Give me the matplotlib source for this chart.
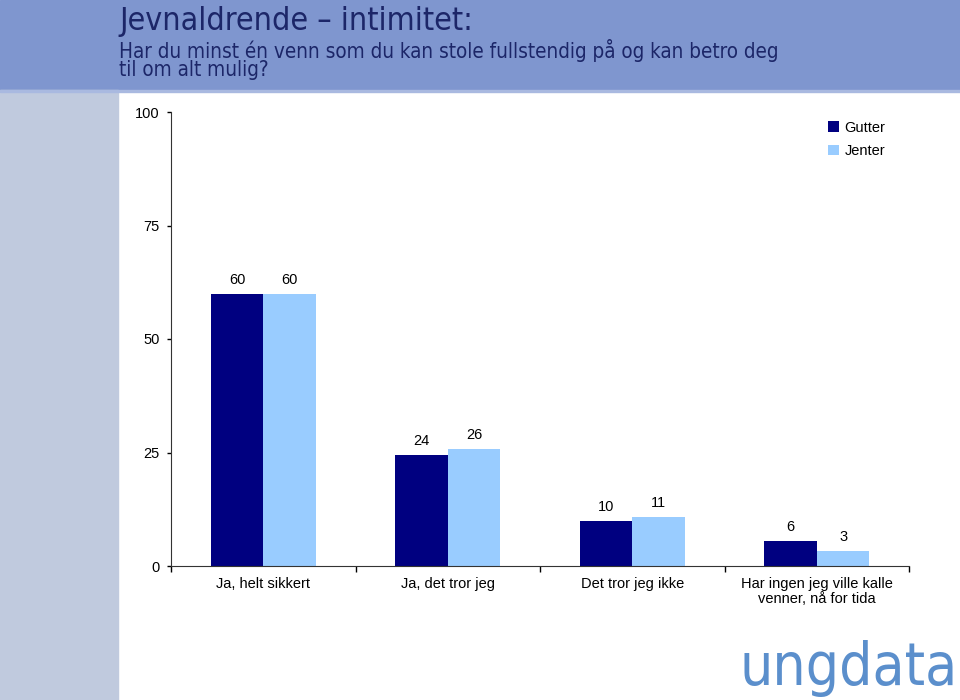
import matplotlib.pyplot as plt
import numpy as np
from matplotlib.patches import Rectangle

# Data (percent)
categories = ['Ja, helt sikkert', 'Ja, det tror jeg', 'Det tror jeg ikke',
              'Har ingen jeg ville kalle\nvenner, nå for tida']
gutter = [60.0, 24.4, 9.9, 5.5]
jenter = [60.0, 25.8, 10.8, 3.3]
series_names = ['Gutter', 'Jenter']
yticks = [0, 25, 50, 75, 100]

title = 'Jevnaldrende – intimitet:'
subtitle = 'Har du minst én venn som du kan stole fullstendig på og kan betro deg\ntil om alt mulig?'

GUTTER_COL = '#000080'
JENTER_COL = '#99ccff'

plt.rcParams['font.family'] = ['Liberation Sans', 'DejaVu Sans']

fig = plt.figure(figsize=(9.6, 7), dpi=100)

# Header band and side bar
fig.patches.append(Rectangle((0, 1 - 90 / 700), 1, 90 / 700,
                             transform=fig.transFigure, color='#7f96cf', zorder=0))
fig.patches.append(Rectangle((0, 0), 118 / 960, 1 - 90 / 700,
                             transform=fig.transFigure, color='#c0cade', zorder=0))
fig.patches.append(Rectangle((0, 1 - 92 / 700), 1, 2 / 700,
                             transform=fig.transFigure, color='#a9b9e0', zorder=0))

fig.text(119 / 960, 1 - 30 / 700, title, fontsize=23, color='#1c2668',
         family='DejaVu Sans', fontstretch='condensed', va='baseline')
fig.text(119 / 960, 1 - 39 / 700, subtitle, fontsize=14.9, color='#1c2668',
         family='DejaVu Sans', fontstretch='condensed', va='top', linespacing=0.88)

ax = fig.add_axes([171 / 960, 134 / 700, 738 / 960, 454 / 700])
x = np.arange(len(categories))
w = 0.285
b1 = ax.bar(x - w / 2, gutter, w, color=GUTTER_COL, label=series_names[0])
b2 = ax.bar(x + w / 2, jenter, w, color=JENTER_COL, label=series_names[1])

for bars in (b1, b2):
    for r in bars:
        ax.annotate('%.0f' % r.get_height(), (r.get_x() + r.get_width() / 2, r.get_height()),
                    xytext=(0, 5), textcoords='offset points', ha='center', va='bottom',
                    fontsize=10.5)

ax.set_xlim(-0.5, len(categories) - 0.5)
ax.set_ylim(0, 100)
ax.set_yticks(yticks)
ax.tick_params(axis='y', direction='out', length=3, width=1, labelsize=10.5, pad=5)
ax.set_xticks(x)
ax.set_xticklabels(categories, fontsize=10.5, linespacing=1.1)
ax.tick_params(axis='x', which='major', length=0, pad=8)
ax.set_xticks(np.arange(len(categories) + 1) - 0.5, minor=True)
ax.tick_params(axis='x', which='minor', direction='out', length=4, width=1)
for s in ['top', 'right']:
    ax.spines[s].set_visible(False)
for s in ['left', 'bottom']:
    ax.spines[s].set_color('#333333')

ax.legend(loc='upper left', bbox_to_anchor=(0.873, 1.01), frameon=False, fontsize=10.5,
          handlelength=0.7, handleheight=0.7, handletextpad=0.4, labelspacing=0.65)

fig.text(958 / 960, 3 / 700, 'ungdata', fontsize=42, color='#5b8fcc', ha='right',
         va='bottom', family='DejaVu Sans', fontstretch='condensed', fontweight='light')

fig.savefig('out.png', dpi=100)
